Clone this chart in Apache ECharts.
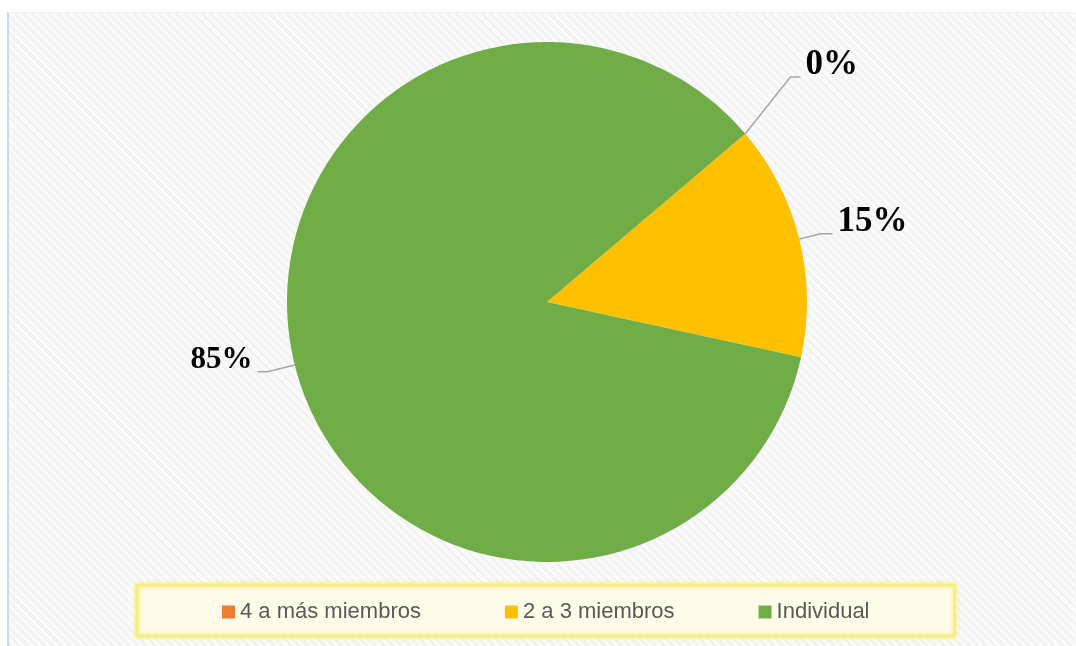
<!DOCTYPE html>
<html>
<head>
<meta charset="utf-8">
<script src="https://cdn.jsdelivr.net/npm/echarts@6/dist/echarts.min.js"></script>
<style>
  html, body { margin: 0; padding: 0; background: #ffffff; }
  #wrap { position: relative; width: 1076px; height: 646px; overflow: hidden; }
  #bg {
    position: absolute; left: 7px; top: 12px; right: 0; bottom: 0;
    border-left: 2px solid #c9dbef; border-top: 1px solid #eef2f7;
    background: repeating-linear-gradient(45deg, #f3f3f3 0 3px, #fbfbfb 3px 6px);
  }
  #main { position: absolute; left: 0; top: 0; width: 1076px; height: 646px; }
</style>
</head>
<body>
<div id="wrap">
  <div id="bg"></div>
  <div id="main"></div>
</div>
<script>
// datos del gráfico
const categorias = ["4 a más miembros", "2 a 3 miembros", "Individual"];
const valores = [0, 14.6, 85.4];
const colores = ["#ED7D31", "#FFC000", "#70AD47"];
// líneas guía y etiquetas por segmento
const lineaLargo = [88, 22, 28];
const lineaLargo2 = [10, 12, 10];
const tamEtiqueta = [35, 35, 31];
const despEtiqueta = [-22, 0, 0]; // corrimiento horizontal de la etiqueta

document.addEventListener("DOMContentLoaded", function () {
  var chart = echarts.init(document.getElementById("main"), null, { renderer: "canvas" });

  var datos = categorias.map(function (nombre, i) {
    return {
      name: nombre,
      value: valores[i],
      itemStyle: { color: colores[i] },
      label: { fontSize: tamEtiqueta[i] },
      labelLine: { length: lineaLargo[i], length2: lineaLargo2[i] }
    };
  });

  chart.setOption({
    backgroundColor: "transparent",
    animation: false,
    legend: {
      data: categorias,
      left: 137,
      top: 585,
      orient: "horizontal",
      icon: "rect",
      itemWidth: 13,
      itemHeight: 13,
      itemGap: 84,
      padding: [16, 85, 13, 85],
      backgroundColor: "#fefbe8",
      borderColor: "#f6ee84",
      borderWidth: 3,
      shadowColor: "rgba(245,235,90,0.8)",
      shadowBlur: 4,
      textStyle: { fontFamily: "Liberation Sans", fontSize: 22, color: "#595959" }
    },
    series: [{
      type: "pie",
      center: [547, 302],
      radius: [0, 260],
      startAngle: 40.3,
      clockwise: true,
      avoidLabelOverlap: false,
      data: datos,
      label: {
        show: true,
        position: "outside",
        formatter: function (p) { return Math.round(p.value) + "%\n "; },
        fontFamily: "Liberation Serif",
        fontWeight: "bold",
        lineHeight: 24,
        color: "#000000",
        distanceToLabelLine: 5
      },
      labelLine: {
        show: true,
        smooth: false,
        lineStyle: { color: "#a6a6a6", width: 1.5 }
      },
      labelLayout: function (params) {
        var d = despEtiqueta[params.dataIndex];
        if (!d || !params.labelLinePoints) return {};
        var pts = params.labelLinePoints.map(function (p, k) {
          return k === 0 ? [p[0], p[1]] : [p[0] + d, p[1]];
        });
        return { dx: d, labelLinePoints: pts };
      },
      itemStyle: { borderWidth: 0 },
      emphasis: { disabled: true }
    }]
  });
});
</script>
</body>
</html>
